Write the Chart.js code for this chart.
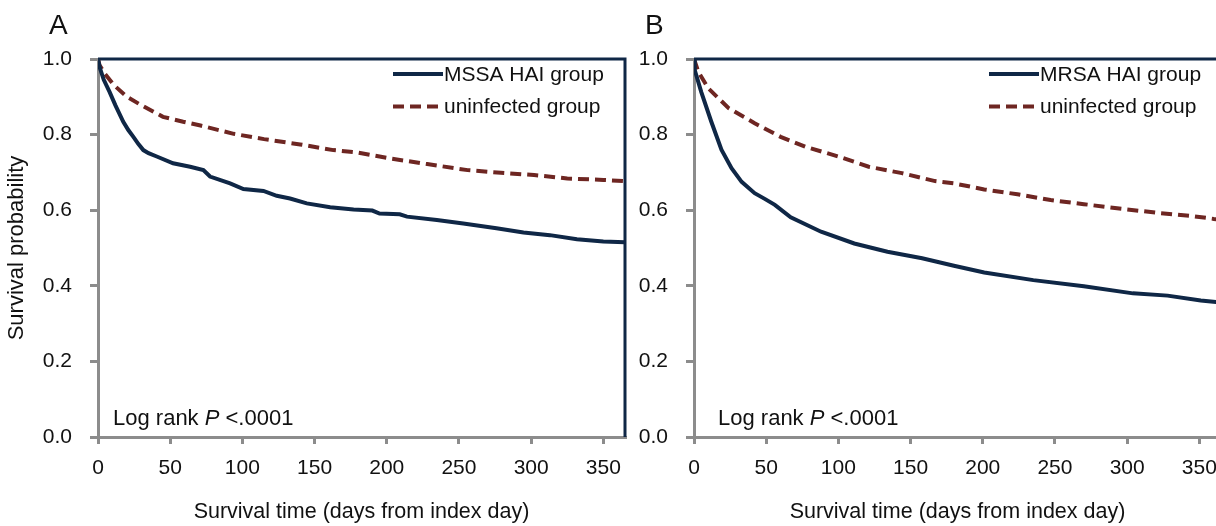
<!DOCTYPE html>
<html><head><meta charset="utf-8">
<script src="https://cdn.jsdelivr.net/npm/chart.js@4.4.1/dist/chart.umd.min.js"></script>
<style>
html,body{margin:0;padding:0;background:#fff;overflow:hidden;width:1216px;height:526px;}
.wrap{position:absolute;top:0;width:650px;height:526px;}
#wa{left:0}
#wb{left:596px}
canvas{display:block}
</style></head><body>
<div class="wrap" id="wa"><canvas id="ca" width="650" height="526"></canvas></div>
<div class="wrap" id="wb"><canvas id="cb" width="650" height="526"></canvas></div>
<script>
// ---- tick labels ----
const xTicks = [0, 50, 100, 150, 200, 250, 300, 350];
const yTicks = [0.0, 0.2, 0.4, 0.6, 0.8, 1.0];
const xMax = 365;

// ---- panel A: MSSA HAI group vs uninfected ----
const mssaDays = [0, 1.4, 4, 8, 12, 17.5, 21, 24.5, 28, 31.4, 35, 40.7, 52, 63.8, 73, 77.6, 91.5, 100.7, 114.6, 123.8, 133, 144.6, 160.8, 177, 190, 195, 209, 214, 234.7, 253, 276, 294.7, 313, 331.7, 350, 365];
const mssaSurv = [1.0, 0.975, 0.945, 0.913, 0.878, 0.834, 0.812, 0.794, 0.775, 0.759, 0.751, 0.742, 0.724, 0.715, 0.706, 0.689, 0.671, 0.656, 0.651, 0.638, 0.631, 0.618, 0.608, 0.602, 0.599, 0.591, 0.589, 0.583, 0.574, 0.565, 0.552, 0.541, 0.534, 0.523, 0.517, 0.515];
const uninfADays = [0, 1, 5, 11, 20, 29, 45, 59, 71, 94, 115, 140, 163, 179, 202, 228, 256, 279, 302, 325, 350, 365];
const uninfASurv = [1.0, 0.984, 0.960, 0.931, 0.900, 0.880, 0.847, 0.834, 0.824, 0.802, 0.788, 0.774, 0.759, 0.753, 0.737, 0.722, 0.706, 0.699, 0.693, 0.684, 0.680, 0.677];

// ---- panel B: MRSA HAI group vs uninfected ----
const mrsaDays = [0, 0.5, 5, 12, 19, 26, 33, 42, 49, 56, 67, 88, 111, 134, 158, 180, 201, 235, 270, 304, 328, 351, 365];
const mrsaSurv = [1.0, 0.971, 0.913, 0.834, 0.760, 0.711, 0.675, 0.645, 0.630, 0.614, 0.581, 0.543, 0.512, 0.490, 0.473, 0.453, 0.435, 0.415, 0.399, 0.380, 0.374, 0.361, 0.356];
const uninfBDays = [0, 3, 10, 24, 42, 60, 77, 100, 121, 144, 167, 180, 201, 224, 247, 270, 293, 321, 344, 360, 365];
const uninfBSurv = [1.0, 0.966, 0.922, 0.870, 0.830, 0.794, 0.768, 0.742, 0.715, 0.698, 0.677, 0.671, 0.655, 0.642, 0.627, 0.616, 0.605, 0.593, 0.585, 0.577, 0.575];

// ---- labels ----
const seriesNamesA = ['MSSA HAI group', 'uninfected group'];
const seriesNamesB = ['MRSA HAI group', 'uninfected group'];
const xTitle = 'Survival time (days from index day)';
const yTitle = 'Survival probability';
const panelLetters = ['A', 'B'];

const NAVY = '#0f2746';
const MAROON = '#6e2622';
const GRAY = '#8c8c8c';
const TXT = '#111';
const FONT = "'Liberation Sans', Arial, sans-serif";

function zip(xs, ys){ return xs.map((x, i) => ({x: x, y: ys[i]})); }

const decoPlugin = {
  id: 'deco',
  beforeDatasetsDraw(chart){
    const {ctx, chartArea: a} = chart;
    ctx.save();
    ctx.strokeStyle = NAVY; ctx.lineWidth = 3; ctx.lineCap = 'butt';
    ctx.beginPath();
    ctx.moveTo(a.left, a.top); ctx.lineTo(a.right + 1.5, a.top);
    ctx.moveTo(a.right, a.top); ctx.lineTo(a.right, a.bottom);
    ctx.stroke();
    ctx.restore();
  },
  afterDraw(chart, args, o){
    const {ctx, chartArea: a} = chart;
    ctx.save();
    // panel letter
    ctx.fillStyle = TXT;
    ctx.font = '28px ' + FONT;
    ctx.textBaseline = 'alphabetic'; ctx.textAlign = 'left';
    ctx.fillText(o.letter, a.left - 49, 34);
    // legend
    const tx = a.right - 181;
    ctx.font = '21px ' + FONT;
    ctx.textBaseline = 'middle';
    chart.data.datasets.forEach((ds, i) => {
      const y = 74 + i * 32.5;
      ctx.strokeStyle = ds.borderColor;
      ctx.lineWidth = 4;
      ctx.lineCap = 'butt';
      ctx.setLineDash(ds.borderDash || []);
      ctx.beginPath(); ctx.moveTo(tx - 51, y); ctx.lineTo(tx - 1, y); ctx.stroke();
      ctx.setLineDash([]);
      ctx.fillStyle = TXT;
      ctx.fillText(ds.label, tx, y + 1);
    });
    // log rank annotation
    ctx.textBaseline = 'alphabetic';
    let x = a.left + o.noteDx;
    const yb = 425;
    ctx.font = '22px ' + FONT;
    ctx.fillText('Log rank ', x, yb); x += ctx.measureText('Log rank ').width;
    ctx.font = 'italic 22px ' + FONT;
    ctx.fillText('P', x, yb); x += ctx.measureText('P').width;
    ctx.font = '22px ' + FONT;
    ctx.fillText(' <.0001', x, yb);
    ctx.restore();
  }
};

function makeChart(id, names, s1, s2, letter, showYTitle, noteDx){
  return new Chart(document.getElementById(id), {
    type: 'line',
    data: {
      datasets: [
        {label: names[0], data: s1, borderColor: NAVY, borderWidth: 4, pointRadius: 0, tension: 0, fill: false, order: 1},
        {label: names[1], data: s2, borderColor: MAROON, borderWidth: 4, borderDash: [11, 6], pointRadius: 0, tension: 0, fill: false, order: 2}
      ]
    },
    options: {
      responsive: false, animation: false, devicePixelRatio: 1,
      layout: {padding: {top: 59, right: 25, left: 0, bottom: 0}},
      plugins: {
        legend: {display: false}, tooltip: {enabled: false},
        deco: {letter: letter, noteDx: noteDx}
      },
      scales: {
        x: {
          type: 'linear', min: 0, max: xMax,
          afterBuildTicks: s => { s.ticks = xTicks.map(v => ({value: v})); },
          afterFit: s => { s.height = 89; },
          grid: {drawOnChartArea: false, drawTicks: true, tickLength: 7, color: GRAY, lineWidth: 3},
          border: {display: true, color: GRAY, width: 3},
          ticks: {color: TXT, font: {family: FONT, size: 21}, padding: 12, maxRotation: 0, autoSkip: false},
          title: {display: true, text: xTitle, color: TXT, font: {family: FONT, size: 21.5}, padding: {top: 0, bottom: 1}}
        },
        y: {
          type: 'linear', min: 0, max: 1,
          afterBuildTicks: s => { s.ticks = yTicks.map(v => ({value: v})); },
          afterFit: s => { s.width = 98; },
          grid: {drawOnChartArea: false, drawTicks: true, tickLength: 8, color: GRAY, lineWidth: 3},
          border: {display: true, color: GRAY, width: 3},
          ticks: {color: TXT, font: {family: FONT, size: 21}, padding: 18, callback: v => v.toFixed(1)},
          title: {display: showYTitle, text: yTitle, color: TXT, font: {family: FONT, size: 22}, padding: {top: 4, bottom: 0}}
        }
      }
    },
    plugins: [decoPlugin]
  });
}

makeChart('ca', seriesNamesA, zip(mssaDays, mssaSurv), zip(uninfADays, uninfASurv), panelLetters[0], true, 15);
makeChart('cb', seriesNamesB, zip(mrsaDays, mrsaSurv), zip(uninfBDays, uninfBSurv), panelLetters[1], false, 24);
</script>
</body></html>
